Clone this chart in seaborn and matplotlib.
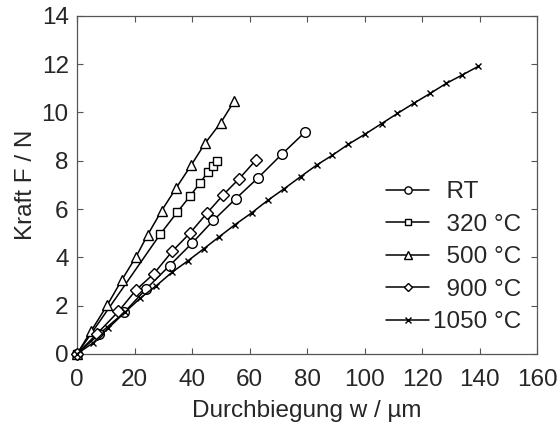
import numpy as np
import pandas as pd
import matplotlib
matplotlib.use("Agg")
import matplotlib.pyplot as plt
import seaborn as sns

sns.set_style("ticks")
plt.rcParams['font.family'] = ['Liberation Sans', 'DejaVu Sans']

labels = ["RT", "320 °C", "500 °C", "900 °C", "1050 °C"]
legend_labels = ["  RT", "  320 °C", "  500 °C", "  900 °C", "1050 °C"]

rt_x = [0, 7.8, 16.4, 24.1, 32.2, 40.1, 47.4, 55.2, 63.0, 71.2, 79.4]
rt_y = [0, 0.83, 1.72, 2.70, 3.66, 4.60, 5.53, 6.43, 7.30, 8.27, 9.20]

t320_x = [0, 29.0, 34.9, 39.2, 42.8, 45.6, 47.1, 48.8]
t320_y = [0, 4.97, 5.88, 6.52, 7.09, 7.55, 7.79, 8.01]

t500_x = [0, 4.8, 10.6, 15.6, 20.5, 24.6, 29.4, 34.4, 39.7, 44.5, 50.0, 54.7]
t500_y = [0, 0.93, 2.04, 3.07, 4.02, 4.94, 5.93, 6.86, 7.82, 8.72, 9.58, 10.48]

t900_x = [0, 6.9, 14.4, 20.6, 26.7, 33.1, 39.3, 45.1, 50.9, 56.4, 62.2]
t900_y = [0, 0.83, 1.76, 2.66, 3.32, 4.25, 5.01, 5.82, 6.60, 7.26, 8.03]

t1050_x = [0, 5.6, 10.9, 16.6, 22.0, 27.6, 33.1, 38.6, 44.0, 49.4, 55.0, 60.8,
           66.3, 72.0, 77.7, 83.3, 88.8, 94.3, 100.1, 105.9, 111.4, 117.2,
           122.8, 128.3, 133.9, 139.5]
t1050_y = [0, 0.46, 1.07, 1.72, 2.31, 2.83, 3.39, 3.86, 4.35, 4.85, 5.36, 5.85,
           6.36, 6.84, 7.34, 7.82, 8.23, 8.68, 9.10, 9.54, 9.96, 10.39, 10.79,
           11.20, 11.55, 11.91]

xs = [rt_x, t320_x, t500_x, t900_x, t1050_x]
ys = [rt_y, t320_y, t500_y, t900_y, t1050_y]
markers = ["o", "s", "^", "D", "x"]
msizes = [7, 5.5, 7.5, 6, 5]

x_ticks = [0, 20, 40, 60, 80, 100, 120, 140, 160]
y_ticks = [0, 2, 4, 6, 8, 10, 12, 14]

FS = 17.5

fig = plt.figure(figsize=(5.6, 4.28), dpi=100)
ax = fig.add_axes([0.1375, 0.173, 0.822, 0.79])

for lab, leg, x, y, m, ms in zip(labels, legend_labels, xs, ys, markers, msizes):
    df = pd.DataFrame({"w": x, "F": y})
    sns.lineplot(data=df, x="w", y="F", ax=ax, sort=False, color="black",
                 marker=m, markersize=ms, markerfacecolor="white",
                 markeredgecolor="black", markeredgewidth=1.0, linewidth=1.1,
                 label=leg, clip_on=False, zorder=3)

ax.set_xlim(0, 160)
ax.set_ylim(0, 14)
ax.set_xticks(x_ticks)
ax.set_yticks(y_ticks)
ax.tick_params(direction="in", length=4, width=0.8, top=True, right=True,
               labelsize=FS, colors="#555555", labelcolor="#262626")
ax.tick_params(axis="x", pad=11)
ax.tick_params(axis="y", pad=6)
for s in ax.spines.values():
    s.set_color("#555555")
    s.set_linewidth(0.9)

ax.set_xlabel("Durchbiegung w / µm", fontsize=FS, color="#262626", labelpad=6)
ax.set_ylabel("Kraft F / N", fontsize=FS, color="#262626", labelpad=3)

leg = ax.legend(loc="lower right", bbox_to_anchor=(0.987, 0.033), frameon=False,
                fontsize=FS, handlelength=1.77, handletextpad=0.16,
                labelspacing=0.43, markerscale=0.75, borderaxespad=0)
for t in leg.get_texts():
    t.set_color("#262626")

fig.savefig("out.png", dpi=100)
